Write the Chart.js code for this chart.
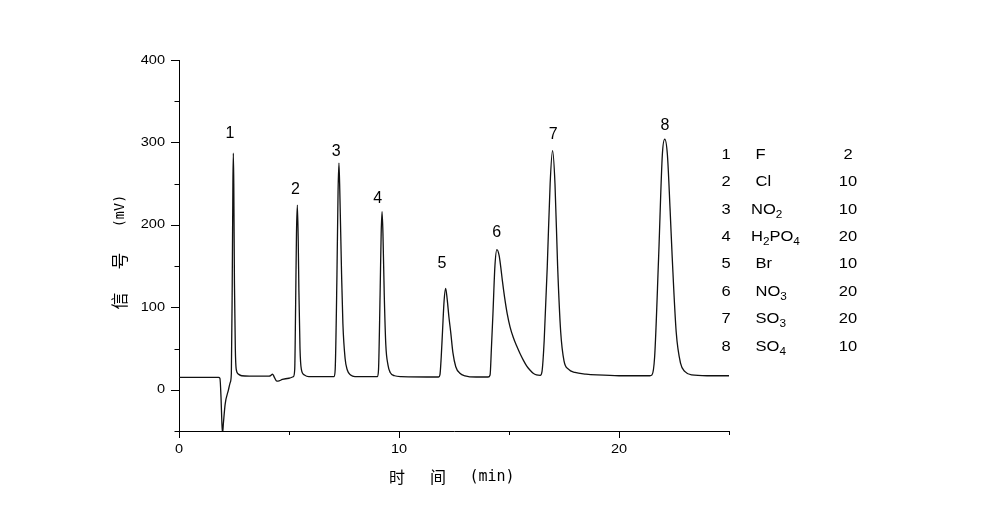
<!DOCTYPE html>
<html>
<head>
<meta charset="utf-8">
<script src="https://cdn.jsdelivr.net/npm/chart.js@4/dist/chart.umd.min.js"></script>
<style>
  html, body { margin: 0; padding: 0; background: #fff; }
  #wrap { width: 1000px; height: 517px; position: relative; }
</style>
</head>
<body>
<div id="wrap"><canvas id="chrom"></canvas></div>
<script>
// chromatogram trace (time in min, signal in mV)
const traceTime = [
  0, 1.80, 1.86, 1.91, 1.95, 1.98, 2.02, 2.10, 2.24, 2.33,
  2.38, 2.42, 2.45, 2.47, 2.49, 2.52, 2.56, 2.60, 2.70, 2.85,
  3.20, 4.10, 4.20, 4.25, 4.32, 4.42, 4.50, 4.70, 5.00, 5.20,
  5.26, 5.30, 5.34, 5.38, 5.42, 5.45, 5.50, 5.56, 5.70, 5.90,
  7.05, 7.10, 7.18, 7.23, 7.27, 7.31, 7.39, 7.45, 7.55, 7.65,
  7.80, 8.00, 9.02, 9.07, 9.14, 9.19, 9.23, 9.27, 9.33, 9.40,
  9.50, 9.60, 9.80, 10.10, 11.80, 11.86, 11.92, 11.98, 12.05, 12.12,
  12.19, 12.27, 12.35, 12.45, 12.58, 12.77, 13.00, 13.50, 14.05, 14.14,
  14.20, 14.27, 14.36, 14.45, 14.55, 14.62, 14.70, 14.80, 14.92, 15.05,
  15.20, 15.35, 15.50, 15.65, 15.80, 15.95, 16.10, 16.25, 16.42, 16.50,
  16.60, 16.74, 16.87, 16.98, 17.09, 17.21, 17.35, 17.50, 17.70, 18.00,
  18.50, 19.00, 20.00, 21.40, 21.50, 21.62, 21.80, 21.97, 22.08, 22.20,
  22.32, 22.42, 22.60, 22.80, 23.00, 23.30, 24.00, 25.00
];
const traceSignal = [
  15, 15, 14, -9, -41, -53, -40, -17, -1, 9,
  20, 130, 250, 287, 250, 130, 50, 25, 19, 17,
  16.5, 16.5, 18, 19, 16, 11, 10.5, 12.5, 14, 16,
  25, 100, 190, 224, 180, 120, 50, 25, 18, 16,
  16, 25, 140, 240, 275, 240, 140, 80, 38, 24,
  18, 16, 16, 25, 115, 190, 216, 190, 115, 55,
  30, 21, 17, 16, 15.5, 18, 40, 72, 108, 123,
  110, 88, 70, 45, 28, 20, 17, 15.5, 15.5, 18,
  50, 92, 150, 170, 163, 150, 132, 112, 92, 76,
  63, 53, 44, 36, 29, 24, 20, 18, 17.5, 22,
  60, 150, 250, 290, 250, 150, 70, 35, 25, 21,
  19, 18, 17, 17, 18, 40, 160, 285, 304, 285,
  220, 160, 70, 32, 22, 18, 17, 17
];

// peak number labels (placed in data units above each peak)
const peakNumbers = ["1", "2", "3", "4", "5", "6", "7", "8"];
const labelTime = [2.32, 5.29, 7.14, 9.03, 11.95, 14.44, 17.01, 22.09];
const labelSignal = [311, 243, 289, 232, 153, 191, 309, 320];

// component table on the right (_n marks a subscript digit)
const ionNames = [" F", " Cl", "NO_2", "H_2PO_4", " Br", " NO_3", " SO_3", " SO_4"];
const concentrations = ["2", "10", "10", "20", "10", "20", "20", "10"];

// axes
const xMin = 0, xMax = 25, xStep = 5, xLabelEvery = 10;
const yMin = -50, yMax = 400, yStep = 50, yLabelEvery = 100;

const LATIN = "'Liberation Sans', Arial, sans-serif";
const CJK = "'Noto Sans CJK SC', sans-serif";
const MONO = "'DejaVu Sans Mono', 'Liberation Mono', monospace";

function stretchText(ctx, text, x, y, align, stretch) {
  ctx.save();
  ctx.translate(x, y);
  ctx.scale(stretch, 1);
  ctx.textAlign = align;
  ctx.fillText(text, 0, 0);
  ctx.restore();
}

function drawIon(ctx, name, x, y) {
  // splits "H_2PO_4" into normal and subscript runs
  const parts = name.split(/_(\d)/);
  let cx = x;
  ctx.textAlign = "left";
  parts.forEach((p, i) => {
    if (!p) return;
    const sub = i % 2 === 1;
    ctx.font = sub ? "10px " + LATIN : "14px " + LATIN;
    const w = ctx.measureText(p).width * 1.18;
    ctx.save();
    ctx.translate(cx, sub ? y + 5 : y);
    ctx.scale(1.18, 1);
    ctx.fillText(p, 0, 0);
    ctx.restore();
    cx += w;
  });
}

const decorations = {
  id: "decorations",
  afterDraw(chart) {
    const ctx = chart.ctx;
    const xs = chart.scales.x, ys = chart.scales.y;
    const area = chart.chartArea;
    ctx.save();
    ctx.strokeStyle = "#000";
    ctx.fillStyle = "#000";
    ctx.lineWidth = 1;

    // tick marks, long for labelled ticks
    xs.ticks.forEach(t => {
      const px = Math.round(xs.getPixelForValue(t.value)) + 0.5;
      const len = t.value % xLabelEvery === 0 ? 7 : 4;
      ctx.beginPath();
      ctx.moveTo(px, area.bottom);
      ctx.lineTo(px, area.bottom + len);
      ctx.stroke();
    });
    ys.ticks.forEach(t => {
      const py = Math.round(ys.getPixelForValue(t.value)) + 0.5;
      const len = t.value % yLabelEvery === 0 ? 8 : 4.5;
      ctx.beginPath();
      ctx.moveTo(area.left, py);
      ctx.lineTo(area.left - len, py);
      ctx.stroke();
    });

    // tick labels
    ctx.font = "13px " + LATIN;
    ctx.textBaseline = "middle";
    xs.ticks.forEach(t => {
      if (t.value % xLabelEvery !== 0) return;
      stretchText(ctx, String(t.value), xs.getPixelForValue(t.value), area.bottom + 18, "center", 1.12);
    });
    ys.ticks.forEach(t => {
      if (t.value % yLabelEvery !== 0 || t.value < 0) return;
      stretchText(ctx, String(t.value), area.left - 14, ys.getPixelForValue(t.value), "right", 1.12);
    });

    // peak numbers
    ctx.font = "16px " + LATIN;
    ctx.textAlign = "center";
    peakNumbers.forEach((n, i) => {
      ctx.fillText(n, xs.getPixelForValue(labelTime[i]), ys.getPixelForValue(labelSignal[i]));
    });

    // component table
    const rowTop = 155, rowGap = 27.4;
    ionNames.forEach((name, i) => {
      const y = rowTop + i * rowGap;
      ctx.textBaseline = "middle";
      ctx.font = "14px " + LATIN;
      stretchText(ctx, peakNumbers[i], 726, y, "center", 1.18);
      drawIon(ctx, name, 751, y);
      ctx.font = "14px " + LATIN;
      stretchText(ctx, concentrations[i], 848, y, "center", 1.18);
    });

    // x axis title: 时 间 (min)
    ctx.textBaseline = "middle";
    ctx.textAlign = "center";
    ctx.font = "16px " + CJK;
    ctx.fillText("时", 397, 477);
    ctx.fillText("间", 438, 477);
    ctx.font = "15px " + MONO;
    ctx.fillText("(min)", 492, 477);

    // y axis title: 信 号 (mV), rotated
    ctx.save();
    ctx.translate(120, 0);
    ctx.rotate(-Math.PI / 2);
    ctx.font = "17px " + CJK;
    ctx.fillText("信", -301, 0);
    ctx.fillText("号", -261, 0);
    ctx.font = "13.5px " + MONO;
    ctx.fillText("(mV)", -211, 0);
    ctx.restore();

    ctx.restore();
  }
};

const points = traceTime.map((t, i) => ({ x: t, y: traceSignal[i] }));

new Chart(document.getElementById("chrom"), {
  type: "line",
  data: {
    datasets: [{
      data: points,
      borderColor: "#111",
      borderWidth: 1.3,
      pointRadius: 0,
      fill: false,
      cubicInterpolationMode: "monotone"
    }]
  },
  options: {
    responsive: true,
    maintainAspectRatio: false,
    animation: false,
    events: [],
    layout: { padding: { left: 100, right: 271, top: 60, bottom: 46 } },
    plugins: { legend: { display: false }, tooltip: { enabled: false } },
    scales: {
      x: {
        type: "linear",
        min: xMin,
        max: xMax,
        ticks: { stepSize: xStep, display: false },
        grid: { drawOnChartArea: false, drawTicks: false },
        border: { color: "#000", width: 1 },
        afterFit: s => { s.height = 40; }
      },
      y: {
        min: yMin,
        max: yMax,
        ticks: { stepSize: yStep, display: false },
        grid: { drawOnChartArea: false, drawTicks: false },
        border: { color: "#000", width: 1 },
        afterFit: s => { s.width = 79; }
      }
    }
  },
  plugins: [decorations]
});
</script>
</body>
</html>
